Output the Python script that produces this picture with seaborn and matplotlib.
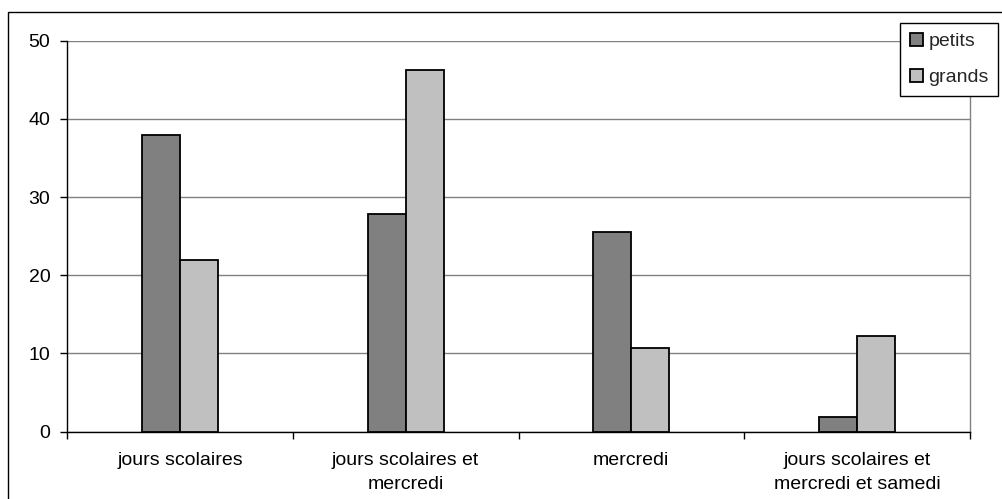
import matplotlib
matplotlib.use("Agg")
import matplotlib.pyplot as plt
import seaborn as sns
import pandas as pd
from matplotlib.patches import Rectangle, Patch

categories = ["jours scolaires", "jours scolaires et\nmercredi", "mercredi",
              "jours scolaires et\nmercredi et samedi"]
petits = [37.9, 27.8, 25.5, 1.8]
grands = [22.0, 46.3, 10.7, 12.2]
series = ["petits", "grands"]
colors = ["#808080", "#C0C0C0"]
yticks = [0, 10, 20, 30, 40, 50]

df = pd.DataFrame({
    "cat": categories * 2,
    "val": petits + grands,
    "serie": [series[0]] * len(categories) + [series[1]] * len(categories),
})

sns.set_theme(style="white")
plt.rcParams["font.family"] = ["Liberation Sans", "DejaVu Sans"]
FS = 14

W, H = 1002, 499
fig = plt.figure(figsize=(W / 100, H / 100), dpi=100)
ax = fig.add_axes([67 / W, 1 - 431.5 / H, (970 - 67) / W, (431.5 - 40.7) / H])

sns.barplot(data=df, x="cat", y="val", hue="serie", palette=colors,
            width=0.336, edgecolor="black", linewidth=1.3, ax=ax,
            saturation=1, errorbar=None, legend=False, zorder=3)

ax.set_xlim(-0.5, len(categories) - 0.5)
ax.set_ylim(0, 50)
ax.set_yticks(yticks)
ax.set_yticklabels([str(t) for t in yticks], fontsize=FS, color="black")
ax.yaxis.grid(True, color="#808080", linewidth=1.0, zorder=0)
ax.set_axisbelow(True)
ax.set_xlabel("")
ax.set_ylabel("")

# x labels at category centers, ticks at boundaries
ax.set_xticks(range(len(categories)))
ax.set_xticklabels(categories, fontsize=FS, color="black", linespacing=1.5)
ax.tick_params(axis="x", which="major", length=0, pad=15)
ax.set_xticks([i - 0.5 for i in range(len(categories) + 1)], minor=True)
ax.tick_params(axis="x", which="minor", length=5, width=1, color="black",
               direction="out", bottom=True)
ax.tick_params(axis="y", length=5, width=1, color="black", direction="out",
               left=True, pad=7)

for s in ["left", "bottom"]:
    ax.spines[s].set_color("black")
    ax.spines[s].set_linewidth(1.0)
ax.spines["top"].set_visible(False)
ax.spines["right"].set_color("#808080")
ax.spines["right"].set_linewidth(1.0)

# outer chart frame (clipped by canvas on right and bottom)
fig.patches.append(Rectangle((8 / W, -0.2), 1.2, 1.2 - 12 / H,
                             transform=fig.transFigure, fill=False,
                             edgecolor="black", linewidth=1.0))

handles = [Patch(facecolor=c, edgecolor="black", linewidth=1.3) for c in colors]
leg = fig.legend(handles, series, loc="upper left",
                 bbox_to_anchor=(900 / W, 1 - 23 / H),
                 bbox_transform=fig.transFigure, fontsize=FS,
                 frameon=True, fancybox=False, shadow=False, framealpha=1,
                 edgecolor="black", handlelength=0.7, handleheight=0.7,
                 handletextpad=0.25, labelspacing=0.95, borderpad=0.5,
                 borderaxespad=0)
leg.get_frame().set_linewidth(1.0)

fig.savefig("out.png", dpi=100)
